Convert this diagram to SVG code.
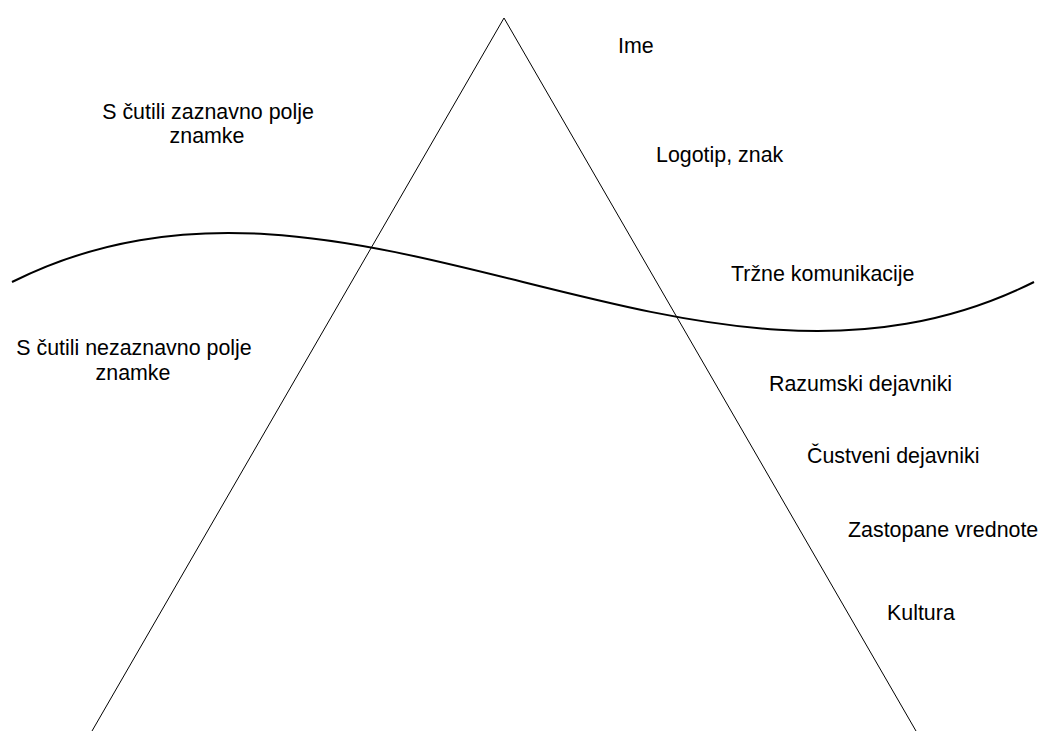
<svg xmlns="http://www.w3.org/2000/svg" width="1040" height="731" viewBox="0 0 1040 731">
<style>
text{font-family:"Liberation Sans",Arial,sans-serif;font-size:21.4px;fill:#000}
.tri{fill:none;stroke:#000;stroke-width:1}
.wave{fill:none;stroke:#000;stroke-width:2}
.c{text-anchor:middle}
</style>
<rect width="1040" height="731" fill="#fff"/>
<g id="connectors">
<path id="triangle" class="tri" d="M92,731 L504,18 L916,731"/>
<path id="wave" class="wave" d="M12,282 C352.7,112 693.3,452 1034,282"/>
</g>
<g id="zaznavno"><text class="c" x="208" y="119">S čutili zaznavno polje</text><text class="c" x="207" y="143">znamke</text></g>
<g id="nezaznavno"><text class="c" x="134" y="355">S čutili nezaznavno polje</text><text class="c" x="133" y="380">znamke</text></g>
<g id="ime"><text x="618" y="53">Ime</text></g>
<g id="logotip"><text x="656" y="162">Logotip, znak</text></g>
<g id="trzne"><text x="731" y="281">Tržne komunikacije</text></g>
<g id="razumski"><text x="769" y="391">Razumski dejavniki</text></g>
<g id="custveni"><text x="807" y="463">Čustveni dejavniki</text></g>
<g id="vrednote"><text x="848" y="537">Zastopane vrednote</text></g>
<g id="kultura"><text x="887" y="620">Kultura</text></g>
</svg>
